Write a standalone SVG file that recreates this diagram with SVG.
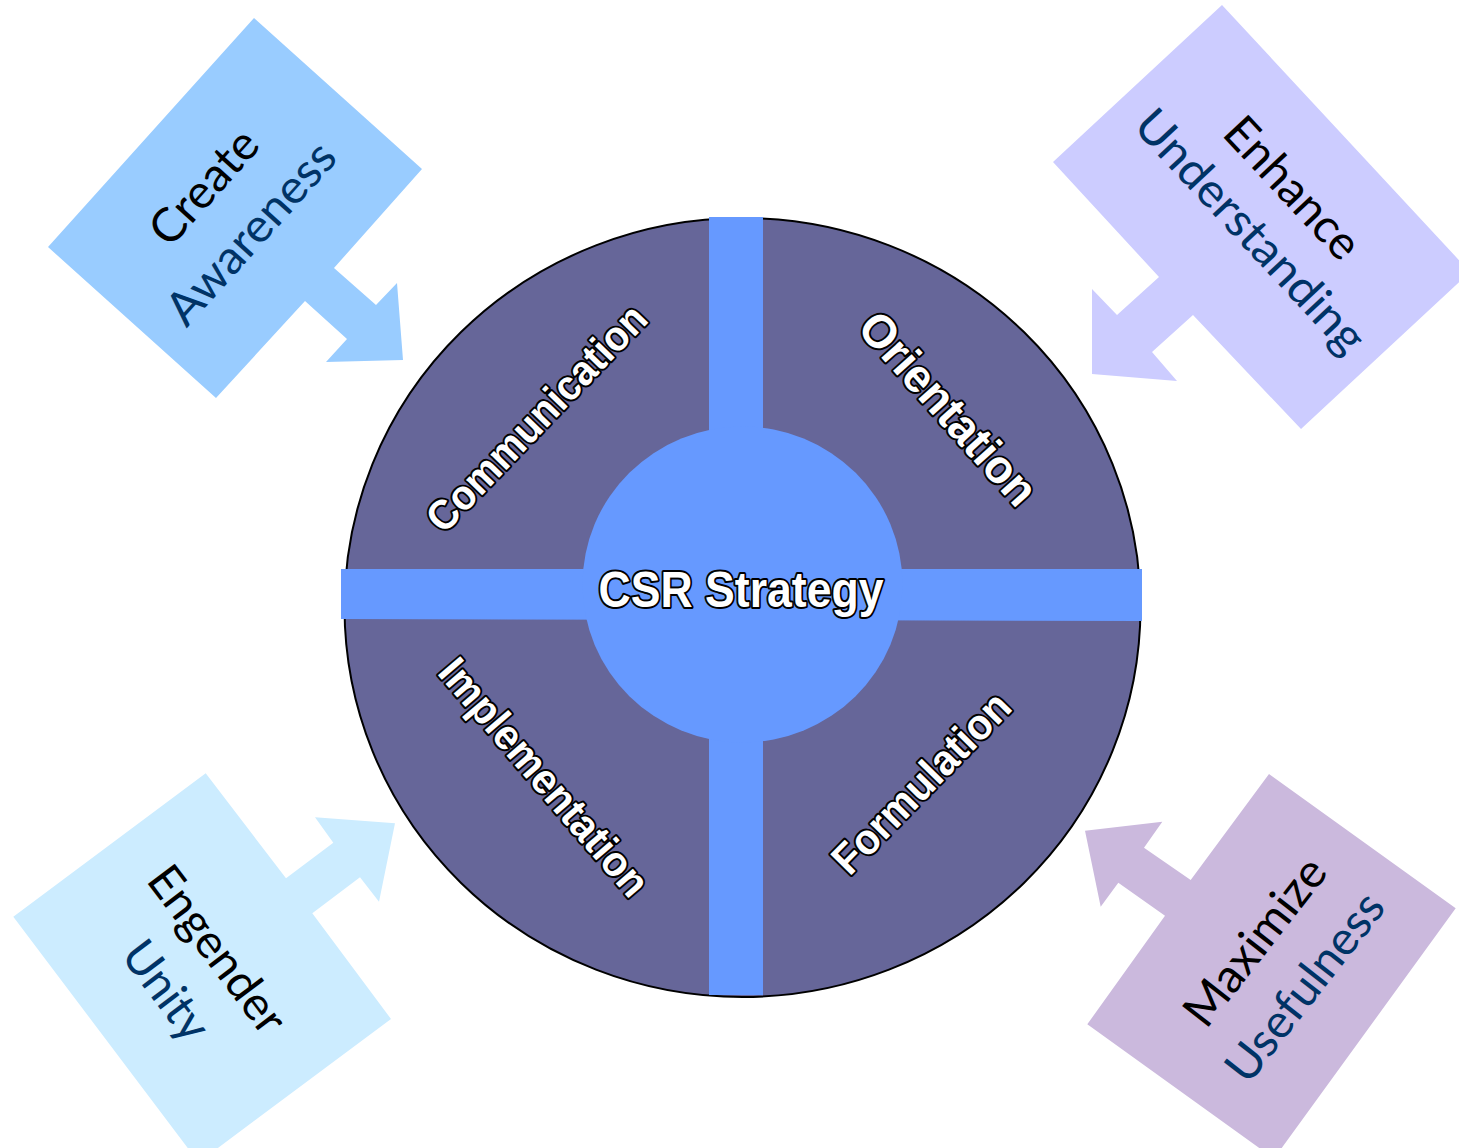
<svg xmlns="http://www.w3.org/2000/svg" width="1459" height="1148" viewBox="0 0 1459 1148">
<style>
.ring{fill:#666699;stroke:#000;stroke-width:2}
.bar{fill:#6699FF}
.lbl{font-family:"Liberation Sans",Arial,sans-serif;font-weight:bold;fill:#fff;stroke:#000;stroke-width:4;paint-order:stroke;stroke-linejoin:round;text-anchor:middle}
.ct{font-family:Lato,"Open Sans",sans-serif;font-size:47px;text-anchor:middle}
.k{fill:#000}
.b{fill:#003366}
</style>
<rect width="1459" height="1148" fill="#fff"/>
<g id="hub">
  <ellipse class="ring" cx="742.5" cy="607.5" rx="398" ry="389.5"/>
  <rect class="bar" x="709" y="217" width="54" height="778"/>
  <polygon class="bar" points="341,569 1142,569 1142,621 341,619"/>
  <ellipse class="bar" cx="742.5" cy="584.5" rx="160" ry="158"/>
  <text class="lbl" x="741" y="607" font-size="50" textLength="285" lengthAdjust="spacingAndGlyphs">CSR Strategy</text>
</g>
<g id="seg-communication"><g transform="translate(536,417.5) rotate(-46.1)"><text class="lbl" x="0" y="15" font-size="42" textLength="297" lengthAdjust="spacingAndGlyphs">Communication</text></g></g>
<g id="seg-orientation"><g transform="translate(949,408) rotate(48.2)"><text class="lbl" x="0" y="17" font-size="47" textLength="242" lengthAdjust="spacingAndGlyphs">Orientation</text></g></g>
<g id="seg-implementation"><g transform="translate(541.5,779.5) rotate(49.5)"><text class="lbl" x="0" y="11" font-size="42.5" textLength="298" lengthAdjust="spacingAndGlyphs">Implementation</text></g></g>
<g id="seg-formulation"><g transform="translate(921,782.5) rotate(-45.6)"><text class="lbl" x="0" y="15" font-size="43" textLength="235" lengthAdjust="spacingAndGlyphs">Formulation</text></g></g>

<g id="callout-awareness">
  <polygon fill="#99CCFF" points="254,18 422,169 334,268 376,305 397,283 403,360 326,362 347,339 305,301 216,398 48,247"/>
  <g transform="translate(204,187) rotate(-48)"><text class="ct k" x="0" y="16" textLength="138" lengthAdjust="spacingAndGlyphs">Create</text></g>
  <g transform="translate(251,233) rotate(-48)"><text class="ct b" x="0" y="16" textLength="228" lengthAdjust="spacingAndGlyphs">Awareness</text></g>
</g>
<g id="callout-understanding">
  <polygon fill="#CCCCFF" points="1222,5 1470,272 1301,429 1193,315 1152,352 1177,381 1092,374 1092,289 1117,315 1159,277 1053,162"/>
  <g transform="translate(1292.5,188) rotate(47)"><text class="ct k" x="0" y="16" textLength="176" lengthAdjust="spacingAndGlyphs">Enhance</text></g>
  <g transform="translate(1247.5,234) rotate(47)"><text class="ct b" x="0" y="12" textLength="314" lengthAdjust="spacingAndGlyphs">Understanding</text></g>
</g>
<g id="callout-unity">
  <polygon fill="#CCECFF" points="205.7,773.3 286,878.3 333.3,842.7 315,817.3 395,823.3 379,901.7 360,877.3 312.3,913.3 391,1019 198.6,1162.4 13.3,916.7"/>
  <g transform="translate(214,952) rotate(53)"><text class="ct k" x="0" y="12" textLength="197" lengthAdjust="spacingAndGlyphs">Engender</text></g>
  <g transform="translate(163,993) rotate(53)"><text class="ct b" x="0" y="12" textLength="112" lengthAdjust="spacingAndGlyphs">Unity</text></g>
</g>
<g id="callout-usefulness">
  <polygon fill="#CBB9DD" points="1269,774 1455.7,908.3 1274,1158.6 1087.3,1024.3 1165,915.7 1118.3,882.7 1100.7,906.7 1085,830.7 1162.3,821.7 1144,847.7 1190.7,880"/>
  <g transform="translate(1255,941.7) rotate(-52)"><text class="ct k" x="0" y="16" textLength="200" lengthAdjust="spacingAndGlyphs">Maximize</text></g>
  <g transform="translate(1305,987) rotate(-52)"><text class="ct b" x="0" y="16" textLength="226" lengthAdjust="spacingAndGlyphs">Usefulness</text></g>
</g>
</svg>
